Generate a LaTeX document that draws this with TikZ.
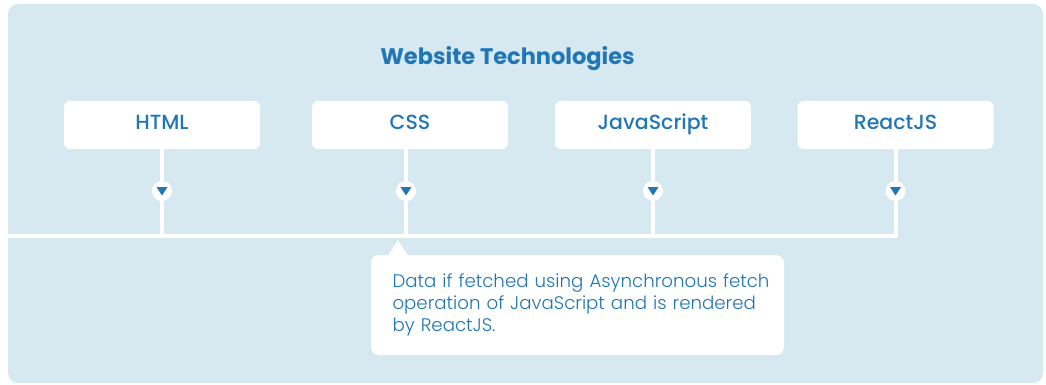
\documentclass[tikz,border=0pt]{standalone}
\usepackage{fontspec}
\setmainfont{Poppins}
\newfontfamily\popmedium{Poppins Medium}
\newfontfamily\poplight{Poppins Light}
\usetikzlibrary{calc}
\definecolor{panel}{HTML}{D6E9F1}
\definecolor{ink}{HTML}{2176B6}
\newcommand\fullline[1]{\leavevmode\hbox to 370pt{#1}}
\begin{document}
\begin{tikzpicture}[x=1pt,y=-1pt,
  tech/.style={fill=white, rounded corners=6pt, minimum width=196pt, minimum height=48pt,
    inner sep=0pt, text=ink, font=\popmedium\fontsize{20.5}{24}\selectfont,
    text height=14pt, text depth=5.4pt},
  wire/.style={draw=white, line width=4pt},
  marker/.style={circle, fill=white, minimum size=20pt, inner sep=0pt},
  tip/.style={fill=ink}]
\useasboundingbox (0,0) rectangle (1046,385);
% panel
\fill[panel, rounded corners=10pt] (8,4) rectangle (1043,383);

% title
\node[anchor=base, text=ink, font=\bfseries\fontsize{22.5}{26}\selectfont] (title) at (507.5,65) {Website Technologies};

% technology boxes
\node[tech] (html)  at (162,125)   {HTML};
\node[tech] (css)   at (410,125)   {CSS};
\node[tech] (js)    at (653,125)   {JavaScript};
\node[tech] (react) at (895.5,125) {ReactJS};

% bus line
\coordinate (busL) at (8,236);
\coordinate (cssdrop) at ([xshift=-4pt]css.south);
\draw[wire, line join=miter] (busL) -- (react.south |- busL) -- (react.south);
\draw[wire] (html.south) -- (html.south |- busL);
\draw[wire] (cssdrop) -- (cssdrop |- busL);
\draw[wire] (js.south) -- (js.south |- busL);

% markers on the drops
\foreach \n/\p in {m1/html.south, m3/js.south, m4/react.south, m2/cssdrop}{
  \node[marker] (\n) at (\p |- 0,191) {};
  \fill[tip] ($(\n)+(-5.5,-4)$) -- ($(\n)+(5.5,-4)$) -- ($(\n)+(0,4.5)$) -- cycle;
}

% callout
\coordinate (apex) at (398,240);
\fill[white] (388,256) -- (apex) -- (408,256) -- cycle;
\node[fill=white, rounded corners=8pt, minimum width=413pt, minimum height=100pt,
  inner xsep=21.5pt, inner ysep=0pt, text width=370pt, align=left, text=ink,
  font=\poplight\fontsize{18.2}{21.7}\selectfont] (note) at (577.5,305)
  {\fullline{Data if fetched using Asynchronous fetch}\\
   \fullline{operation of JavaScript and is rendered}\\
   by ReactJS.};
\end{tikzpicture}
\end{document}
